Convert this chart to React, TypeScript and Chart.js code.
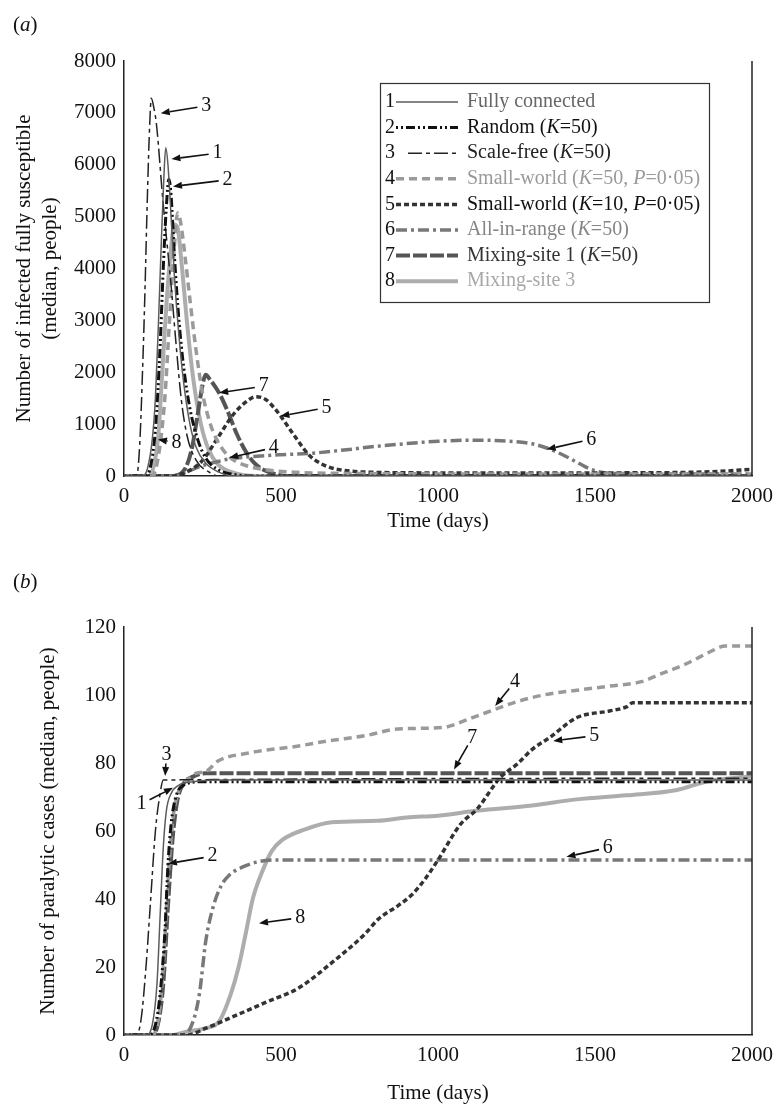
import React, { useEffect, useRef } from "react";
import { Chart, registerables } from "chart.js";

Chart.register(...registerables);

type Pt = [number, number];
type Part = { t: string; i?: boolean };
type Arrow = [string, number, number, number, number]; // label, textDay, textValue, tipDay, tipValue

// ---------------- shared axis ticks ----------------
const xTicks = [0, 500, 1000, 1500, 2000];
const aYTicks = [0, 1000, 2000, 3000, 4000, 5000, 6000, 7000, 8000];
const bYTicks = [0, 20, 40, 60, 80, 100, 120];

// ---------------- panel (a): infected fully susceptible (median, people) ----------------
const aFullyConnected: Pt[] = [[0, 0], [60, 0], [75, 150], [90, 700], [100, 1500], [110, 3000], [120, 4700], [128, 5900], [133, 6330], [140, 6000], [150, 5000], [160, 3900], [175, 2700], [190, 1800], [210, 1000], [230, 550], [260, 250], [300, 80], [350, 0], [2000, 0]];
const aRandom: Pt[] = [[0, 0], [70, 0], [85, 200], [100, 900], [115, 2500], [125, 4000], [135, 5200], [143, 5720], [150, 5400], [160, 4300], [175, 3000], [190, 2100], [210, 1300], [235, 700], [260, 350], [300, 120], [350, 30], [400, 0], [2000, 0]];
const aScaleFree: Pt[] = [[0, 0], [40, 0], [50, 600], [60, 2200], [66, 3400], [75, 5500], [82, 6800], [87, 7280], [95, 7100], [103, 6800], [124, 5300], [151, 3600], [165, 2600], [182, 1500], [200, 800], [230, 300], [270, 80], [300, 0], [2000, 0]];
const aSmallWorld50: Pt[] = [[0, 0], [90, 0], [110, 400], [130, 1500], [145, 3000], [160, 4400], [171, 5070], [180, 4900], [195, 4200], [210, 3400], [230, 2400], [250, 1600], [275, 1000], [300, 650], [335, 370], [380, 220], [450, 120], [550, 70], [700, 50], [1200, 40], [2000, 40]];
const aSmallWorld10: Pt[] = [[0, 0], [150, 0], [200, 80], [250, 300], [300, 750], [350, 1200], [400, 1480], [420, 1530], [450, 1480], [480, 1300], [503, 1120], [540, 800], [590, 400], [640, 200], [700, 110], [800, 70], [1000, 60], [1500, 60], [1800, 70], [1900, 90], [2000, 130]];
const aAllInRange: Pt[] = [[0, 0], [150, 0], [200, 80], [250, 200], [300, 280], [335, 330], [400, 370], [500, 410], [600, 440], [700, 500], [800, 570], [872, 610], [1000, 670], [1100, 690], [1200, 680], [1300, 620], [1346, 540], [1400, 400], [1450, 240], [1490, 120], [1550, 50], [2000, 40]];
const aMixing1: Pt[] = [[0, 0], [150, 0], [190, 100], [215, 500], [235, 1200], [250, 1750], [260, 1950], [275, 1850], [303, 1600], [330, 1250], [360, 800], [390, 450], [420, 220], [460, 80], [520, 0], [2000, 0]];
const aMixing3: Pt[] = [[0, 0], [80, 0], [95, 200], [108, 700], [120, 1800], [135, 3300], [150, 4400], [160, 4850], [170, 4800], [185, 4000], [200, 3000], [220, 1900], [245, 1000], [270, 500], [300, 220], [350, 60], [420, 0], [2000, 0]];

const aArrows: Arrow[] = [
  ["3", 262, 7136, 117, 6995],
  ["1", 298, 6225, 151, 6110],
  ["2", 330, 5711, 156, 5582],
  ["7", 445, 1732, 303, 1604],
  ["5", 645, 1316, 498, 1155],
  ["8", 167, 643, 108, 706],
  ["4", 477, 546, 335, 354],
  ["6", 1488, 706, 1346, 514],
];

// ---------------- panel (b): paralytic cases (median, people) ----------------
const bFullyConnected: Pt[] = [[0, 0], [70, 0], [90, 3], [105, 15], [115, 35], [125, 55], [135, 66], [150, 71], [175, 73.5], [220, 74.5], [300, 75], [2000, 75]];
const bRandom: Pt[] = [[0, 0], [80, 0], [100, 3], [115, 12], [130, 30], [140, 50], [150, 62], [165, 70], [190, 73.5], [250, 74.5], [2000, 74.5]];
const bScaleFree: Pt[] = [[0, 0], [40, 0], [55, 5], [70, 20], [85, 40], [100, 60], [115, 71], [125, 75], [2000, 75.5]];
const bSmallWorld50: Pt[] = [[0, 0], [90, 0], [110, 5], [125, 20], [140, 45], [155, 63], [175, 72], [200, 75], [230, 77], [261, 77.5], [298, 80.5], [400, 83], [556, 85], [650, 86.5], [767, 88], [872, 90], [1019, 90.5], [1100, 93], [1188, 96], [1250, 98], [1336, 100], [1450, 101.5], [1546, 102.6], [1651, 104], [1704, 106], [1760, 108], [1809, 110], [1862, 112.5], [1915, 114.4], [2000, 114.4]];
const bSmallWorld10: Pt[] = [[0, 0], [200, 0], [261, 2], [345, 5.3], [451, 9.6], [556, 13.8], [661, 21.2], [767, 29.7], [809, 34], [872, 38], [914, 41], [960, 46], [998, 51.2], [1072, 62], [1125, 66.5], [1198, 75.7], [1251, 79.6], [1300, 84], [1356, 87.5], [1441, 93.3], [1546, 95.3], [1600, 96.5], [1620, 97.7], [2000, 97.7]];
const bAllInRange: Pt[] = [[0, 0], [190, 0], [220, 4], [240, 12], [261, 28], [285, 38], [310, 44], [335, 47], [380, 49.5], [430, 51], [500, 51.5], [2000, 51.5]];
const bMixing1: Pt[] = [[0, 0], [90, 0], [110, 4], [125, 15], [140, 38], [155, 58], [170, 69], [190, 74], [220, 76], [260, 77], [2000, 77]];
const bMixing3: Pt[] = [[0, 0], [150, 0], [200, 1], [260, 2], [303, 4], [340, 12], [365, 20], [388, 30], [410, 40], [440, 48], [470, 54], [503, 57.3], [577, 60.5], [661, 62.6], [809, 63], [900, 64], [1000, 64.5], [1125, 66], [1300, 67.5], [1441, 69.3], [1600, 70.5], [1757, 72], [1862, 74.7], [2000, 76]];

const bArrows: Arrow[] = [
  ["3", 135, 82.5, 131, 76.2],
  ["1", 56, 68, 156, 72.7],
  ["2", 282, 52.6, 140, 50.4],
  ["8", 561, 34.5, 430, 32.9],
  ["4", 1245, 104, 1182, 96.8],
  ["7", 1109, 87.5, 1051, 78.1],
  ["5", 1498, 88, 1367, 86.5],
  ["6", 1541, 55.1, 1409, 52.4],
];

// ---------------- legend text ----------------
const legendLabels: Part[][] = [
  [{ t: "Fully connected" }],
  [{ t: "Random (" }, { t: "K", i: true }, { t: "=50)" }],
  [{ t: "Scale-free (" }, { t: "K", i: true }, { t: "=50)" }],
  [{ t: "Small-world (" }, { t: "K", i: true }, { t: "=50, " }, { t: "P", i: true }, { t: "=0·05)" }],
  [{ t: "Small-world (" }, { t: "K", i: true }, { t: "=10, " }, { t: "P", i: true }, { t: "=0·05)" }],
  [{ t: "All-in-range (" }, { t: "K", i: true }, { t: "=50)" }],
  [{ t: "Mixing-site 1 (" }, { t: "K", i: true }, { t: "=50)" }],
  [{ t: "Mixing-site 3" }],
];

// ---------------- styles ----------------
const FONT = '"Liberation Serif", "Times New Roman", Times, serif';
const seriesStyle = [
  { color: "#5c5c5c", width: 1.5, dash: [] as number[] },
  { color: "#111111", width: 3, dash: [2, 3, 2, 3, 9, 3] },
  { color: "#222222", width: 1.5, dash: [14, 4, 4, 4] },
  { color: "#9a9a9a", width: 3.5, dash: [8, 5] },
  { color: "#333333", width: 3.5, dash: [5, 3] },
  { color: "#787878", width: 3.5, dash: [11, 4, 3, 4] },
  { color: "#555555", width: 4, dash: [14, 3] },
  { color: "#adadad", width: 4, dash: [] as number[] },
];
const legendTextColor = ["#666666", "#111111", "#222222", "#9a9a9a", "#111111", "#858585", "#333333", "#a8a8a8"];

function drawParts(ctx: CanvasRenderingContext2D, parts: Part[], x: number, y: number, size: number, color: string) {
  let cx = x;
  ctx.fillStyle = color;
  ctx.textAlign = "left";
  ctx.textBaseline = "middle";
  for (const p of parts) {
    ctx.font = `${p.i ? "italic " : ""}${size}px ${FONT}`;
    ctx.fillText(p.t, cx, y);
    cx += ctx.measureText(p.t).width;
  }
}

function panelLabelPlugin(letter: string, x: number, y: number) {
  return {
    id: "panelLabel" + letter,
    afterDraw(chart: any) {
      const ctx = chart.ctx;
      ctx.save();
      drawParts(ctx, [{ t: "(" }, { t: letter, i: true }, { t: ")" }], x, y, 21, "#111");
      ctx.restore();
    },
  };
}

const rightBorderPlugin = {
  id: "rightBorder",
  afterDraw(chart: any) {
    const { ctx, chartArea } = chart;
    ctx.save();
    ctx.strokeStyle = "#222";
    ctx.lineWidth = 1.5;
    ctx.beginPath();
    ctx.moveTo(chartArea.right, chartArea.top);
    ctx.lineTo(chartArea.right, chartArea.bottom);
    ctx.stroke();
    ctx.restore();
  },
};

function arrowPlugin(items: Arrow[]) {
  return {
    id: "arrows",
    afterDatasetsDraw(chart: any) {
      const { ctx, scales } = chart;
      const xs = scales.x;
      const ys = scales.y;
      ctx.save();
      for (const [label, td, tv, pd, pv] of items) {
        const lx = xs.getPixelForValue(td);
        const ly = ys.getPixelForValue(tv);
        const px = xs.getPixelForValue(pd);
        const py = ys.getPixelForValue(pv);
        const dx = px - lx;
        const dy = py - ly;
        const len = Math.hypot(dx, dy) || 1;
        const ux = dx / len;
        const uy = dy / len;
        const sx = lx + ux * 9;
        const sy = ly + uy * 9;
        const head = 9;
        const bx = px - ux * head;
        const by = py - uy * head;
        ctx.strokeStyle = "#111";
        ctx.fillStyle = "#111";
        ctx.lineWidth = 1.6;
        ctx.beginPath();
        ctx.moveTo(sx, sy);
        ctx.lineTo(bx, by);
        ctx.stroke();
        ctx.beginPath();
        ctx.moveTo(px, py);
        ctx.lineTo(bx - uy * 3.5, by + ux * 3.5);
        ctx.lineTo(bx + uy * 3.5, by - ux * 3.5);
        ctx.closePath();
        ctx.fill();
        ctx.font = `20px ${FONT}`;
        ctx.textAlign = "center";
        ctx.textBaseline = "middle";
        ctx.fillText(label, lx, ly);
      }
      ctx.restore();
    },
  };
}

const legendPlugin = {
  id: "boxLegend",
  afterDraw(chart: any) {
    const ctx: CanvasRenderingContext2D = chart.ctx;
    const x0 = 380, y0 = 83, x1 = 709, y1 = 302;
    const rowY0 = 102, rowStep = 25.6;
    ctx.save();
    ctx.fillStyle = "#fff";
    ctx.fillRect(x0, y0, x1 - x0, y1 - y0);
    ctx.strokeStyle = "#333";
    ctx.lineWidth = 1.2;
    ctx.strokeRect(x0 + 0.5, y0 + 0.5, x1 - x0, y1 - y0);
    legendLabels.forEach((parts, i) => {
      const y = rowY0 + i * rowStep;
      drawParts(ctx, [{ t: String(i + 1) }], 385, y, 20, "#111");
      const st = seriesStyle[i];
      ctx.strokeStyle = st.color;
      ctx.lineWidth = st.width;
      ctx.setLineDash(st.dash);
      ctx.beginPath();
      ctx.moveTo(i === 2 ? 408 : 396, y);
      ctx.lineTo(458, y);
      ctx.stroke();
      ctx.setLineDash([]);
      drawParts(ctx, parts, 467, y, 20, legendTextColor[i]);
    });
    ctx.restore();
  },
};

function labelText(parts: Part[]) {
  return parts.map((p) => p.t).join("");
}

function makeConfig(opts: {
  series: Pt[][];
  yTicks: number[];
  yTitle: string | string[];
  yTitlePad: number;
  padTop: number;
  xAxisHeight: number;
  xTitlePad: number;
  plugins: any[];
}) {
  const yMax = opts.yTicks[opts.yTicks.length - 1];
  return {
    type: "line" as const,
    data: {
      datasets: opts.series.map((pts, i) => ({
        label: labelText(legendLabels[i]),
        data: pts.map(([x, y]) => ({ x, y })),
        borderColor: seriesStyle[i].color,
        borderWidth: seriesStyle[i].width,
        borderDash: seriesStyle[i].dash,
        borderCapStyle: "butt",
        borderJoinStyle: "round",
        pointRadius: 0,
        fill: false,
        tension: 0.4,
        cubicInterpolationMode: "monotone",
      })),
    },
    options: {
      responsive: false,
      animation: false,
      devicePixelRatio: 1,
      layout: { padding: { top: opts.padTop, right: 24, left: 0, bottom: 0 } },
      plugins: { legend: { display: false }, tooltip: { enabled: false } },
      scales: {
        x: {
          type: "linear",
          min: 0,
          max: 2000,
          afterBuildTicks: (s: any) => {
            s.ticks = xTicks.map((v) => ({ value: v }));
          },
          afterFit: (s: any) => {
            s.height = opts.xAxisHeight;
          },
          grid: { display: false, drawTicks: false },
          border: { display: true, color: "#222", width: 1.5 },
          ticks: {
            padding: 8,
            color: "#111",
            font: { family: FONT, size: 21 },
            maxRotation: 0,
            callback: (v: any) => String(v),
          },
          title: {
            display: true,
            text: "Time (days)",
            color: "#111",
            font: { family: FONT, size: 21 },
            padding: { top: 0, bottom: opts.xTitlePad },
          },
        },
        y: {
          type: "linear",
          min: 0,
          max: yMax,
          afterBuildTicks: (s: any) => {
            s.ticks = opts.yTicks.map((v) => ({ value: v }));
          },
          afterFit: (s: any) => {
            s.width = 124;
          },
          grid: { display: false, drawTicks: false },
          border: { display: true, color: "#222", width: 1.5 },
          ticks: {
            padding: 8,
            color: "#111",
            font: { family: FONT, size: 21 },
            callback: (v: any) => String(v),
          },
          title: {
            display: true,
            text: opts.yTitle,
            color: "#111",
            font: { family: FONT, size: 21, lineHeight: 1.25 },
            padding: { top: opts.yTitlePad, bottom: 0 },
          },
        },
      },
    },
    plugins: opts.plugins,
  };
}

export default function App() {
  const refA = useRef<HTMLCanvasElement>(null);
  const refB = useRef<HTMLCanvasElement>(null);

  useEffect(() => {
    const cfgA: any = makeConfig({
      series: [aFullyConnected, aRandom, aScaleFree, aSmallWorld50, aSmallWorld10, aAllInRange, aMixing1, aMixing3],
      yTicks: aYTicks,
      yTitle: ["Number of infected fully susceptible", "(median, people)"],
      yTitlePad: 11,
      padTop: 61,
      xAxisHeight: 545 - 476,
      xTitlePad: 11,
      plugins: [rightBorderPlugin, arrowPlugin(aArrows), legendPlugin, panelLabelPlugin("a", 13, 25)],
    });
    const cfgB: any = makeConfig({
      series: [bFullyConnected, bRandom, bScaleFree, bSmallWorld50, bSmallWorld10, bAllInRange, bMixing1, bMixing3],
      yTicks: bYTicks,
      yTitle: "Number of paralytic cases (median, people)",
      yTitlePad: 35,
      padTop: 67,
      xAxisHeight: 546 - 475,
      xTitlePad: 0,
      plugins: [rightBorderPlugin, arrowPlugin(bArrows), panelLabelPlugin("b", 13, 22)],
    });
    const ca = new Chart(refA.current as HTMLCanvasElement, cfgA);
    const cb = new Chart(refB.current as HTMLCanvasElement, cfgB);
    return () => {
      ca.destroy();
      cb.destroy();
    };
  }, []);

  return (
    <div style={{ position: "absolute", left: 0, top: 0, width: 781, height: 1106, background: "#fff" }}>
      <canvas ref={refA} width={781} height={545} style={{ position: "absolute", left: 0, top: 0, width: 781, height: 545 }} />
      <canvas ref={refB} width={781} height={546} style={{ position: "absolute", left: 0, top: 560, width: 781, height: 546 }} />
    </div>
  );
}
